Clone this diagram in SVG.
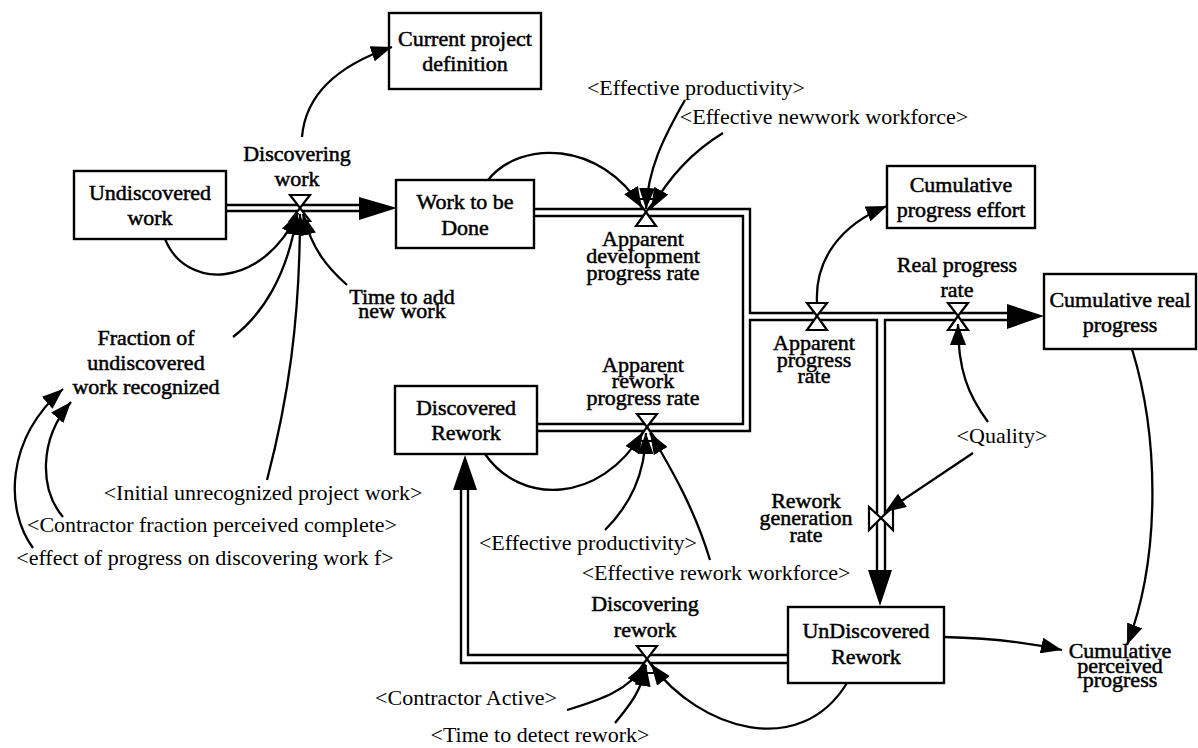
<svg xmlns="http://www.w3.org/2000/svg" width="1198" height="748" viewBox="0 0 1198 748">
  <style>
    .box { fill: #fff; stroke: #000; stroke-width: 2.4; }
    .pipe { fill: none; stroke: #000; stroke-width: 2.4; }
    .head { fill: #000; stroke: none; }
    .valve { fill: #fff; stroke: #000; stroke-width: 2.2; stroke-linejoin: miter; }
    .link { fill: none; stroke: #000; stroke-width: 2.3; marker-end: url(#arrow); }
    text { font-family: "Liberation Serif", "Times New Roman", serif; font-size: 22px; fill: #000; text-anchor: middle; }
    .lbl { stroke: #000; stroke-width: 0.5; }
    .shadow { font-size: 22px; }
  </style>
  <defs>
    <marker id="arrow" markerUnits="userSpaceOnUse" markerWidth="22" markerHeight="16" viewBox="0 0 22 16" refX="21" refY="8" orient="auto">
      <path d="M0,0 L21,8 L0,16 z" fill="#000"/>
    </marker>
  </defs>
  <rect width="1198" height="748" fill="#fff"/>

  <!-- flow pipes -->
  <g id="pipes">
    <!-- Undiscovered work to Work to be Done -->
    <path class="pipe" d="M226,205 H360 M226,211 H360"/>
    <polygon class="head" points="359,197 397,208 359,220"/>
    <!-- development and rework pipes merging -->
    <path class="pipe" d="M534,209 H750 V313 H1008"/>
    <path class="pipe" d="M534,216 H743 V424 H537"/>
    <path class="pipe" d="M537,431 H750 V320 H877 V571 M885,571 V320 H1008"/>
    <polygon class="head" points="1007,304 1044,316 1007,329"/>
    <polygon class="head" points="868,570 892,570 880,606"/>
    <!-- UnDiscovered Rework back to Discovered Rework -->
    <path class="pipe" d="M788,663 H461 V489 M788,655 H468 V489"/>
    <polygon class="head" points="453,490 477,490 465,455"/>
  </g>

  <!-- stocks -->
  <g id="undiscovered-work"><rect class="box" x="74" y="171" width="152" height="68"/>
    <text class="lbl" x="150" y="200">Undiscovered</text><text class="lbl" x="150" y="225">work</text></g>
  <g id="current-project-definition"><rect class="box" x="389" y="13" width="152" height="76"/>
    <text class="lbl" x="465" y="46">Current project</text><text class="lbl" x="465" y="71">definition</text></g>
  <g id="work-to-be-done"><rect class="box" x="396" y="180" width="138" height="68"/>
    <text class="lbl" x="465" y="209">Work to be</text><text class="lbl" x="465" y="235">Done</text></g>
  <g id="cumulative-progress-effort"><rect class="box" x="887" y="166" width="148" height="62"/>
    <text class="lbl" x="961" y="192">Cumulative</text><text class="lbl" x="961" y="217">progress effort</text></g>
  <g id="cumulative-real-progress"><rect class="box" x="1044" y="274" width="152" height="75"/>
    <text class="lbl" x="1120" y="307">Cumulative real</text><text class="lbl" x="1120" y="332">progress</text></g>
  <g id="discovered-rework"><rect class="box" x="395" y="386" width="142" height="68"/>
    <text class="lbl" x="466" y="415">Discovered</text><text class="lbl" x="466" y="440">Rework</text></g>
  <g id="undiscovered-rework"><rect class="box" x="788" y="607" width="156" height="76"/>
    <text class="lbl" x="866" y="638">UnDiscovered</text><text class="lbl" x="866" y="664">Rework</text></g>

  <!-- rates (valves) -->
  <g id="discovering-work">
    <polygon class="valve" points="290,195 310,195 300,208"/>
    <polygon class="valve" points="290,221 310,221 300,208"/>
    <text class="lbl" x="297" y="161">Discovering</text><text class="lbl" x="297" y="186">work</text></g>
  <g id="apparent-development-progress-rate">
    <polygon class="valve" points="636,199 656,199 646,212"/>
    <polygon class="valve" points="636,226 656,226 646,212"/>
    <text class="lbl" x="643" y="246">Apparent</text><text class="lbl" x="643" y="263">development</text><text class="lbl" x="643" y="280">progress rate</text></g>
  <g id="apparent-rework-progress-rate">
    <polygon class="valve" points="637,414 657,414 647,427"/>
    <polygon class="valve" points="637,441 657,441 647,427"/>
    <text class="lbl" x="643" y="372">Apparent</text><text class="lbl" x="643" y="388">rework</text><text class="lbl" x="643" y="405">progress rate</text></g>
  <g id="apparent-progress-rate">
    <polygon class="valve" points="807,303 827,303 817,316"/>
    <polygon class="valve" points="807,330 827,330 817,316"/>
    <text class="lbl" x="814" y="350">Apparent</text><text class="lbl" x="814" y="367">progress</text><text class="lbl" x="814" y="383">rate</text></g>
  <g id="real-progress-rate">
    <polygon class="valve" points="948,303 968,303 958,316"/>
    <polygon class="valve" points="948,330 968,330 958,316"/>
    <text class="lbl" x="957" y="272">Real progress</text><text class="lbl" x="957" y="297">rate</text></g>
  <g id="rework-generation-rate">
    <polygon class="valve" points="869,507 869,530 881,518"/>
    <polygon class="valve" points="893,507 893,530 881,518"/>
    <text class="lbl" x="806" y="508">Rework</text><text class="lbl" x="806" y="525">generation</text><text class="lbl" x="806" y="542">rate</text></g>
  <g id="discovering-rework">
    <polygon class="valve" points="637,646 657,646 647,659"/>
    <polygon class="valve" points="637,673 657,673 647,659"/>
    <text class="lbl" x="645" y="611">Discovering</text><text class="lbl" x="645" y="637">rework</text></g>

  <!-- auxiliaries and shadow variables -->
  <g id="time-to-add-new-work"><text class="lbl" x="402" y="304">Time to add</text><text class="lbl" x="402" y="318">new work</text></g>
  <g id="fraction-recognized"><text class="lbl" x="146" y="345">Fraction of</text><text class="lbl" x="146" y="370">undiscovered</text><text class="lbl" x="146" y="394">work recognized</text></g>
  <g id="cumulative-perceived-progress"><text class="lbl" x="1120" y="658">Cumulative</text><text class="lbl" x="1120" y="673">perceived</text><text class="lbl" x="1120" y="687">progress</text></g>
  <g id="initial-unrecognized-work"><text class="shadow" x="263" y="500">&lt;Initial unrecognized project work&gt;</text></g>
  <g id="contractor-fraction-complete"><text class="shadow" x="212" y="532">&lt;Contractor fraction perceived complete&gt;</text></g>
  <g id="effect-of-progress"><text class="shadow" x="205" y="565">&lt;effect of progress on discovering work f&gt;</text></g>
  <g id="effective-productivity-1"><text class="shadow" x="696" y="95">&lt;Effective productivity&gt;</text></g>
  <g id="effective-newwork-workforce"><text class="shadow" x="824" y="124">&lt;Effective newwork workforce&gt;</text></g>
  <g id="quality"><text class="shadow" x="1002" y="443">&lt;Quality&gt;</text></g>
  <g id="effective-productivity-2"><text class="shadow" x="588" y="550">&lt;Effective productivity&gt;</text></g>
  <g id="effective-rework-workforce"><text class="shadow" x="716" y="580">&lt;Effective rework workforce&gt;</text></g>
  <g id="contractor-active"><text class="shadow" x="466" y="705">&lt;Contractor Active&gt;</text></g>
  <g id="time-to-detect-rework"><text class="shadow" x="540" y="742">&lt;Time to detect rework&gt;</text></g>

  <!-- information links -->
  <g id="connectors">
    <path class="link" d="M302,137 C305,100 330,68 392,47"/>
    <path class="link" d="M165,239 C185,290 262,290 298,213"/>
    <path class="link" d="M347,285 C328,268 312,250 303,214"/>
    <path class="link" d="M233,337 C262,315 288,275 297,214"/>
    <path class="link" d="M267,480 C288,400 300,320 300,214"/>
    <path class="link" d="M63,517 C40,490 38,440 71,402"/>
    <path class="link" d="M33,548 C5,510 5,440 63,389"/>
    <path class="link" d="M488,180 C520,140 600,140 642,208"/>
    <path class="link" d="M685,100 C662,140 648,170 646,209"/>
    <path class="link" d="M723,133 C695,150 670,175 651,209"/>
    <path class="link" d="M817,302 C815,260 840,225 887,206"/>
    <path class="link" d="M988,422 C968,395 958,370 958,324"/>
    <path class="link" d="M973,453 L885,512"/>
    <path class="link" d="M1132,349 C1160,440 1160,560 1127,645"/>
    <path class="link" d="M944,637 C990,638 1030,643 1062,650"/>
    <path class="link" d="M485,454 C520,505 600,505 643,432"/>
    <path class="link" d="M605,530 C630,505 645,475 646,433"/>
    <path class="link" d="M710,560 C695,510 672,470 650,433"/>
    <path class="link" d="M847,683 C800,760 700,730 651,664"/>
    <path class="link" d="M567,710 C600,700 630,690 645,664"/>
    <path class="link" d="M615,723 C630,705 642,690 646,665"/>
  </g>
</svg>
